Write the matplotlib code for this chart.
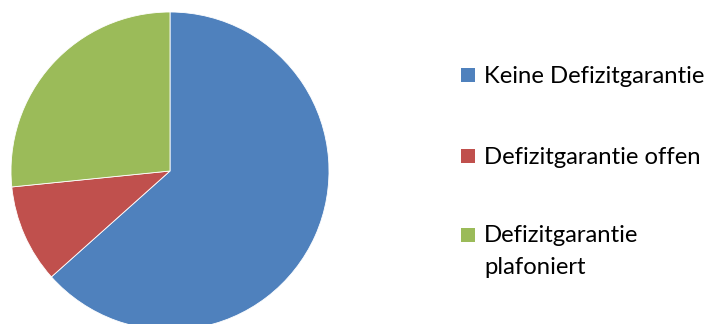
import matplotlib.pyplot as plt
from matplotlib.patches import Rectangle

labels = ["Keine Defizitgarantie", "Defizitgarantie offen", "Defizitgarantie\nplafoniert"]
values = [63.4, 10.0, 26.6]
colors = ["#4F81BD", "#C0504D", "#9BBB59"]

W, H = 712, 324
fig = plt.figure(figsize=(W / 100, H / 100), dpi=100)

# pie: center (170,171) px, radius 159 px
cx, cy, r = 170, 171, 159
ax = fig.add_axes([(cx - r) / W, (H - cy - r) / H, 2 * r / W, 2 * r / H])
ax.pie(values, colors=colors, startangle=90, counterclock=False,
       wedgeprops=dict(edgecolor="white", linewidth=0.6))
ax.set_xlim(-1, 1)
ax.set_ylim(-1, 1)
ax.set_aspect("auto")
ax.axis("off")

# legend, drawn by hand (marker aligned to first text line)
marker_y = [75, 155.5, 234.5]
line_h = 32
for lab, col, my in zip(labels, colors, marker_y):
    fig.patches.append(Rectangle((461 / W, (H - my - 7) / H), 14 / W, 14 / H,
                                 transform=fig.transFigure, facecolor=col,
                                 edgecolor="none"))
    for i, line in enumerate(lab.split("\n")):
        base = my + 8 + i * line_h
        fig.text(484 / W, (H - base) / H, line, fontsize=17.2, family="Lato",
                 va="baseline", ha="left", color="black")

fig.savefig("out.png", dpi=100)
